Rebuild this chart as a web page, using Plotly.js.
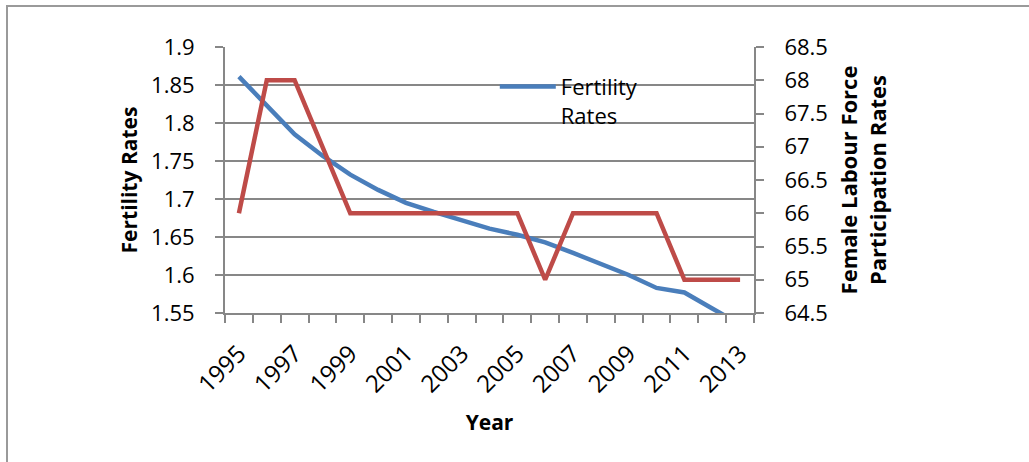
<!DOCTYPE html>
<html>
<head>
<meta charset="utf-8">
<script src="https://cdn.plot.ly/plotly-3.0.1.min.js"></script>
<style>
  html, body { margin: 0; padding: 0; background: #ffffff; }
  #wrap { position: relative; width: 1029px; height: 462px; }
  #chart { width: 1029px; height: 462px; }
  /* chart-area frame (left and top edges) */
  #frame {
    position: absolute; left: 6px; top: 5px; width: 1030px; height: 470px;
    border-left: 2px solid #9a9a9a; border-top: 2px solid #9a9a9a;
    pointer-events: none; box-sizing: border-box;
  }
</style>
</head>
<body>
<div id="wrap">
  <div id="chart"></div>
  <div id="frame"></div>
</div>
<script>
// Years on the horizontal axis
const years = [1995, 1996, 1997, 1998, 1999, 2000, 2001, 2002, 2003, 2004,
               2005, 2006, 2007, 2008, 2009, 2010, 2011, 2012, 2013];

// Total fertility rate (left axis)
const fertilityRates = [1.861, 1.823, 1.785, 1.757, 1.732, 1.712, 1.695, 1.683, 1.672, 1.661,
                        1.653, 1.643, 1.629, 1.615, 1.600, 1.583, 1.577, 1.556, 1.535];

// Female labour force participation rate, % (right axis)
const femaleLabourRates = [66, 68, 68, 67, 66, 66, 66, 66, 66, 66,
                           66, 65, 66, 66, 66, 66, 65, 65, 65];

// Labelled years on the x axis
const yearTickVals = [1995, 1997, 1999, 2001, 2003, 2005, 2007, 2009, 2011, 2013];

const FONT = '"Open Sans", "DejaVu Sans", sans-serif';
const AXIS_GREY = '#878787';

const traces = [
  {
    x: years, y: fertilityRates, name: 'Fertility<br>Rates',
    type: 'scatter', mode: 'lines', yaxis: 'y',
    line: { color: '#4a7ebb', width: 4.5 },
    showlegend: true
  },
  {
    x: years, y: femaleLabourRates, name: 'Female Labour Force Participation Rates',
    type: 'scatter', mode: 'lines', yaxis: 'y2',
    line: { color: '#be4b48', width: 4.5 },
    showlegend: false
  }
];

const layout = {
  width: 1029, height: 462,
  margin: { l: 225, r: 275, t: 47, b: 149 },
  paper_bgcolor: '#ffffff', plot_bgcolor: '#ffffff',
  font: { family: FONT, size: 22, color: '#000000' },
  showlegend: true,
  legend: {
    x: 0.51, y: 0.93, xanchor: 'left', yanchor: 'top',
    valign: 'top',
    bgcolor: 'rgba(0,0,0,0)', borderwidth: 0,
    font: { family: FONT, size: 22, color: '#000000' },
    itemwidth: 56
  },
  xaxis: {
    type: 'linear',
    range: [1994.5, 2013.5],
    tickmode: 'array', tickvals: yearTickVals, ticktext: yearTickVals.map(String),
    tickangle: -45, ticks: '', ticklabelstandoff: 15,
    showgrid: false, zeroline: false,
    showline: true, linecolor: AXIS_GREY, linewidth: 2,
    minor: { tick0: 1994.5, dtick: 1, ticks: 'outside', ticklen: 8, tickwidth: 2, tickcolor: AXIS_GREY, showgrid: false },
    tickfont: { family: FONT, size: 24 },
    title: { text: '<b>Year</b>', font: { family: FONT, size: 21 }, standoff: 17 }
  },
  yaxis: {
    range: [1.55, 1.9], dtick: 0.05, tick0: 1.55,
    ticks: 'outside', ticklen: 8, tickwidth: 2, tickcolor: AXIS_GREY,
    ticklabelstandoff: 16,
    showgrid: true, gridcolor: AXIS_GREY, gridwidth: 2,
    zeroline: false, showline: true, linecolor: AXIS_GREY, linewidth: 2,
    tickfont: { family: FONT, size: 22 },
    title: { text: '<b>Fertility Rates</b>', font: { family: FONT, size: 21 }, standoff: 8 }
  },
  yaxis2: {
    overlaying: 'y', side: 'right',
    range: [64.5, 68.5], dtick: 0.5, tick0: 64.5,
    ticks: 'outside', ticklen: 8, tickwidth: 2, tickcolor: AXIS_GREY,
    ticklabelstandoff: 16,
    showgrid: false, zeroline: false,
    showline: true, linecolor: AXIS_GREY, linewidth: 2,
    tickfont: { family: FONT, size: 22 },
    title: { text: '<b>Female Labour Force<br>Participation Rates</b>', font: { family: FONT, size: 22 }, standoff: 15 }
  }
};

Plotly.newPlot('chart', traces, layout, { staticPlot: true, displayModeBar: false });
</script>
</body>
</html>
